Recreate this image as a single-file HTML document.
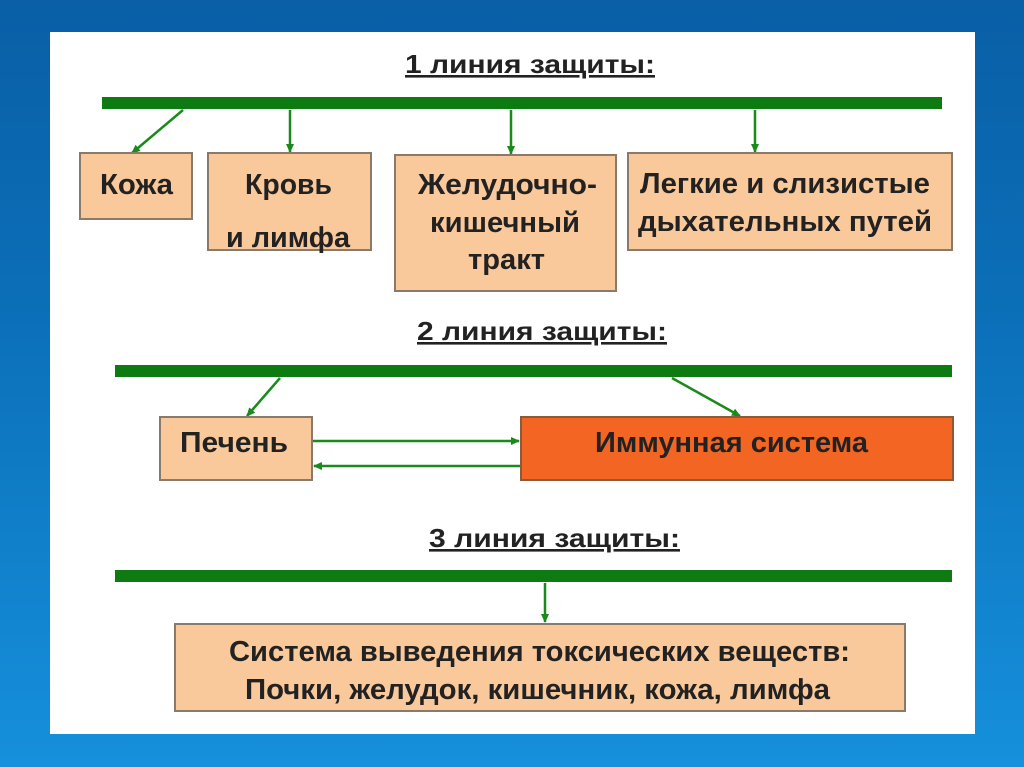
<!DOCTYPE html>
<html><head><meta charset="utf-8"><style>
html,body{margin:0;padding:0}
body{width:1024px;height:767px;overflow:hidden;background:linear-gradient(#0a5fa6,#0b6fb8 40%,#1690dc)}
svg{display:block}
text{font-family:"Liberation Sans",sans-serif;font-weight:bold;fill:#222}
</style></head><body>
<svg width="1024" height="767" viewBox="0 0 1024 767">
<defs>
<marker id="a" markerWidth="10" markerHeight="10" refX="8" refY="5" orient="auto" markerUnits="userSpaceOnUse">
<path d="M0,1 L9,5 L0,9 Z" fill="#1a8a1a"/></marker>
</defs>
<rect x="50" y="32" width="925" height="702" fill="#fff"/>
<g font-size="26">
<text x="405" y="73" textLength="250" lengthAdjust="spacingAndGlyphs" text-decoration="underline">1 линия  защиты:</text>
<text x="417" y="340" textLength="250" lengthAdjust="spacingAndGlyphs" text-decoration="underline">2 линия  защиты:</text>
<text x="429" y="547" textLength="251" lengthAdjust="spacingAndGlyphs" text-decoration="underline">3 линия  защиты:</text>
</g>
<g fill="#0e7a12">
<rect x="102" y="97" width="840" height="12"/>
<rect x="115" y="365" width="837" height="12"/>
<rect x="115" y="570" width="837" height="12"/>
</g>
<g stroke="#1a8a1a" stroke-width="2.5" marker-end="url(#a)">
<line x1="183" y1="110" x2="132" y2="153"/>
<line x1="290" y1="110" x2="290" y2="152"/>
<line x1="511" y1="110" x2="511" y2="154"/>
<line x1="755" y1="110" x2="755" y2="152"/>
<line x1="280" y1="378" x2="247" y2="416"/>
<line x1="672" y1="378" x2="740" y2="416"/>
<line x1="313" y1="441" x2="519" y2="441"/>
<line x1="520" y1="466" x2="314" y2="466"/>
<line x1="545" y1="583" x2="545" y2="622"/>
</g>
<g fill="#fac99b" stroke="#8a7a6a" stroke-width="2">
<rect x="80" y="153" width="112" height="66"/>
<rect x="208" y="153" width="163" height="97"/>
<rect x="395" y="155" width="221" height="136"/>
<rect x="628" y="153" width="324" height="97"/>
<rect x="160" y="417" width="152" height="63"/>
<rect x="175" y="624" width="730" height="87"/>
</g>
<rect x="521" y="417" width="432" height="63" fill="#f26522" stroke="#8a5a3a" stroke-width="2"/>
<g font-size="29">
<text x="100" y="194" textLength="73" lengthAdjust="spacingAndGlyphs">Кожа</text>
<text x="245" y="194" textLength="87" lengthAdjust="spacingAndGlyphs">Кровь</text>
<text x="226" y="247" textLength="124" lengthAdjust="spacingAndGlyphs">и лимфа</text>
<text x="418" y="194" textLength="179" lengthAdjust="spacingAndGlyphs">Желудочно-</text>
<text x="430" y="232" textLength="150" lengthAdjust="spacingAndGlyphs">кишечный</text>
<text x="468" y="269" textLength="77" lengthAdjust="spacingAndGlyphs">тракт</text>
<text x="640" y="193" textLength="290" lengthAdjust="spacingAndGlyphs">Легкие и слизистые</text>
<text x="638" y="231" textLength="294" lengthAdjust="spacingAndGlyphs">дыхательных путей</text>
<text x="180" y="452" textLength="108" lengthAdjust="spacingAndGlyphs">Печень</text>
<text x="595" y="452" textLength="273" lengthAdjust="spacingAndGlyphs">Иммунная система</text>
<text x="229" y="661" textLength="621" lengthAdjust="spacingAndGlyphs">Система выведения токсических веществ:</text>
<text x="245" y="699" textLength="585" lengthAdjust="spacingAndGlyphs">Почки, желудок, кишечник, кожа, лимфа</text>
</g>
</svg>
</body></html>
